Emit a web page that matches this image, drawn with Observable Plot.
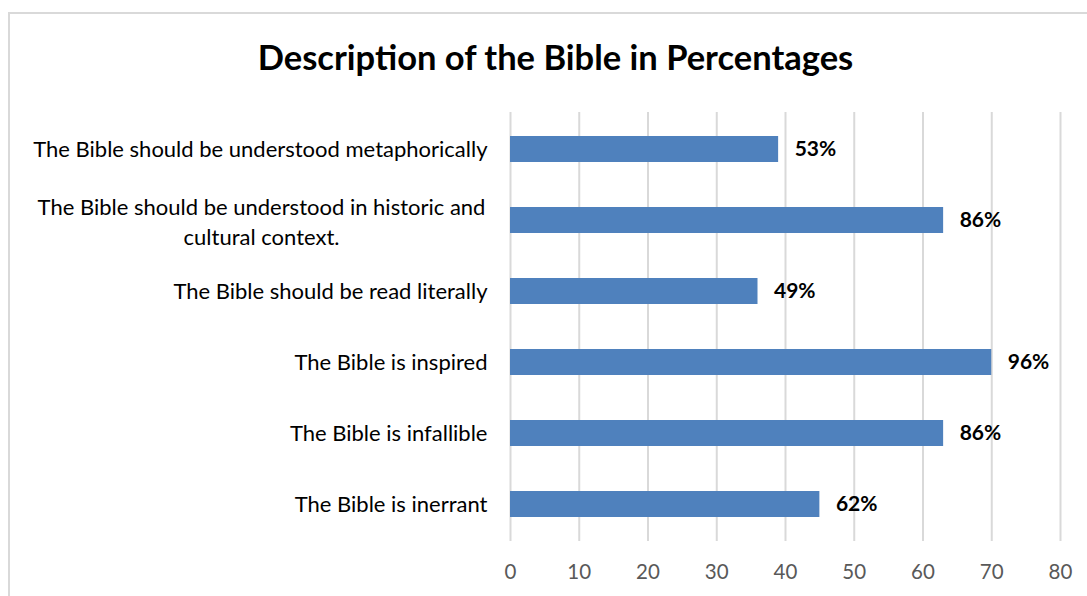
<!DOCTYPE html>
<html>
<head>
<meta charset="utf-8">
<script src="https://cdn.jsdelivr.net/npm/d3@7"></script>
<script src="https://cdn.jsdelivr.net/npm/@observablehq/plot@0.6"></script>
<style>
  html, body { margin: 0; padding: 0; background: #fff; overflow: hidden; }
  #wrap { position: relative; width: 1087px; height: 596px; font-family: Lato, "Open Sans", sans-serif; }
  #frame { position: absolute; left: 8px; top: 12px; width: 1100px; height: 620px; border: 2px solid #d9d9d9; box-sizing: border-box; }
  #title { position: absolute; left: 0; top: 0; width: 1111px; height: 90px; text-align: center; line-height: 114px; font-size: 34.5px; font-weight: bold; color: #000; }
  #chart { position: absolute; left: 0; top: 90px; }
</style>
</head>
<body>
<div id="wrap">
  <div id="frame"></div>
  <div id="title">Description of the Bible in Percentages</div>
  <div id="chart"></div>
</div>
<script>
const categories = [
  "The Bible should be understood metaphorically",
  "The Bible should be understood in historic and cultural context.",
  "The Bible should be read literally",
  "The Bible is inspired",
  "The Bible is infallible",
  "The Bible is inerrant"
];
const barValues = [39, 63, 36, 70, 63, 45];
const valueLabels = ["53%", "86%", "49%", "96%", "86%", "62%"];
const xTicks = [0, 10, 20, 30, 40, 50, 60, 70, 80];
const wrapped = {"The Bible should be understood in historic and cultural context.": "The Bible should be understood in historic and\ncultural context."};

const data = categories.map((c, i) => ({category: c, value: barValues[i], label: valueLabels[i]}));
const multi = data.filter(d => wrapped[d.category]);

const chart = Plot.plot({
  width: 1087,
  height: 506,
  marginTop: 22,
  marginBottom: 55,
  marginLeft: 510,
  marginRight: 27,
  style: {fontFamily: "Lato, 'Open Sans', sans-serif", background: "transparent"},
  x: {domain: [0, 80], ticks: xTicks},
  y: {domain: categories, paddingInner: 0.636, paddingOuter: 0.318},
  marks: [
    Plot.gridX(xTicks, {stroke: "#d9d9d9", strokeOpacity: 1, strokeWidth: 2}),
    Plot.barX(data, {x: "value", y: "category", fill: "#4f81bd"}),
    Plot.text(data, {x: "value", y: "category", text: "label", textAnchor: "start", dx: 16, fontWeight: "bold", fontSize: 21, fill: "#000"}),
    Plot.axisX(xTicks, {tickSize: 0, tickPadding: 23, fontSize: 20.5, fill: "#595959", label: null}),
    Plot.axisY({tickSize: 0, tickPadding: 23, fontSize: 22, fill: "#000", label: null,
      tickFormat: d => wrapped[d] ? "" : d}),
    Plot.text(multi, {y: "category", text: d => wrapped[d.category], frameAnchor: "left", textAnchor: "middle", dx: -249, fontSize: 22, fill: "#000", lineHeight: 1.35})
  ]
});
document.getElementById("chart").appendChild(chart);
</script>
</body>
</html>
